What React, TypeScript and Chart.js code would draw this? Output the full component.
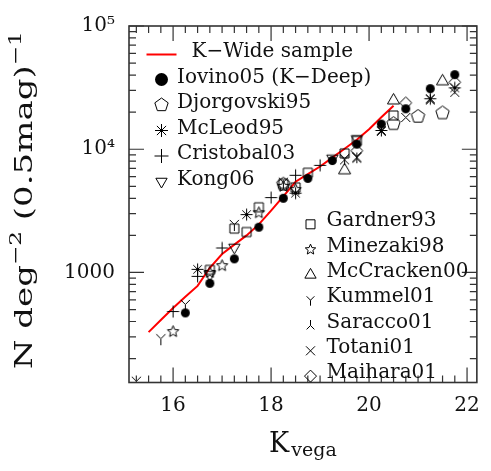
import React, { useEffect, useRef } from 'react';
import { Chart, registerables } from 'chart.js';

Chart.register(...registerables);

// ---------------- data ----------------
const kwideMag = [15.5, 15.75, 16.0, 16.25, 16.5, 16.75, 17.0, 17.25, 17.5, 17.75, 18.0, 18.25, 18.5, 18.75, 19.0, 19.25, 19.5, 19.75, 20.0, 20.25, 20.5];
const kwideN = [328, 412, 515, 634, 778, 1091, 1413, 1683, 2000, 2455, 3177, 4140, 5445, 6270, 7245, 8550, 10090, 11940, 14550, 18150, 22540];

const iovinoMag = [16.25, 16.75, 17.25, 17.75, 18.25, 18.75, 19.25, 19.75, 20.25, 20.75, 21.25, 21.75];
const iovinoN = [470, 816, 1290, 2330, 4000, 5800, 8100, 11000, 16000, 21300, 31000, 40300];

const djorgMag = [18.25, 20.5, 21.0, 21.5];
const djorgN = [5200, 16100, 18450, 19700];

const mcleodMag = [16.5, 17.5, 18.5, 20.25, 21.25, 21.75];
const mcleodN = [1060, 2950, 4400, 14200, 25700, 31500];

const cristobalMag = [16.0, 16.5, 17.0, 18.0, 18.5, 19.0];
const cristobalN = [482, 930, 1580, 4050, 6150, 7400];

const kongMag = [16.75, 17.25, 19.25, 19.75];
const kongN = [960, 1600, 8450, 12150];

const gardnerMag = [16.75, 17.25, 17.5, 17.75, 18.25, 18.5, 18.75, 19.5, 19.75, 20.5];
const gardnerN = [1050, 2270, 2130, 3380, 5240, 4900, 6450, 9250, 11700, 18800];

const minezakiMag = [16.0, 16.75, 17.0, 17.75, 18.25, 18.5];
const minezakiN = [331, 1000, 1135, 3050, 5000, 4700];

const mccrackenMag = [19.5, 20.5, 21.5];
const mccrackenN = [6750, 24900, 35600];

const kummelMag = [15.25, 15.75, 16.25, 17.25, 18.25, 19.5, 19.75];
const kummelN = [131, 290, 550, 2450, 5400, 8400, 8700];

const saraccoMag = [19.75, 20.25, 21.25];
const saraccoN = [8400, 14000, 25000];

const totaniMag = [19.5, 19.75, 20.25, 20.75, 21.25, 21.75];
const totaniN = [8200, 8600, 14000, 18100, 25500, 29000];

const maiharaMag = [19.75, 20.75, 21.75];
const maiharaN = [9720, 23800, 35000];

const xLabelValues = [16, 18, 20, 22];
const yLabelValues = [1000, 10000, 100000];
const yLabelTexts = ['1000', '10⁴', '10⁵'];

const legendTop = ['K−Wide sample', 'Iovino05 (K−Deep)', 'Djorgovski95', 'McLeod95', 'Cristobal03', 'Kong06'];
const legendBottom = ['Gardner93', 'Minezaki98', 'McCracken00', 'Kummel01', 'Saracco01', 'Totani01', 'Maihara01'];

const FONT = "'DejaVu Serif', serif";

type Kind = 'dot' | 'pentagon' | 'asterisk' | 'plus' | 'downtri' | 'square' | 'star5' | 'uptri' | 'ky' | 'sy' | 'x' | 'diamond';

function drawSym(ctx: CanvasRenderingContext2D, kind: Kind, x: number, y: number, r: number) {
  ctx.save();
  ctx.strokeStyle = '#000';
  ctx.fillStyle = '#000';
  ctx.lineWidth = 1;
  ctx.beginPath();
  const c30 = Math.cos(Math.PI / 6);
  const d45 = Math.SQRT1_2;
  switch (kind) {
    case 'dot':
      ctx.arc(x, y, r, 0, Math.PI * 2);
      ctx.fill();
      break;
    case 'pentagon':
      for (let i = 0; i < 5; i++) {
        const a = -Math.PI / 2 + (i * 2 * Math.PI) / 5;
        const px = x + r * Math.cos(a), py = y + r * Math.sin(a);
        if (i === 0) ctx.moveTo(px, py); else ctx.lineTo(px, py);
      }
      ctx.closePath();
      ctx.stroke();
      break;
    case 'asterisk':
      for (let i = 0; i < 4; i++) {
        const a = (i * Math.PI) / 4;
        ctx.moveTo(x - r * Math.cos(a), y - r * Math.sin(a));
        ctx.lineTo(x + r * Math.cos(a), y + r * Math.sin(a));
      }
      ctx.stroke();
      break;
    case 'plus':
      ctx.moveTo(x - r, y); ctx.lineTo(x + r, y);
      ctx.moveTo(x, y - r); ctx.lineTo(x, y + r);
      ctx.stroke();
      break;
    case 'downtri':
      ctx.moveTo(x, y + r);
      ctx.lineTo(x - r * c30, y - r / 2);
      ctx.lineTo(x + r * c30, y - r / 2);
      ctx.closePath();
      ctx.stroke();
      break;
    case 'uptri':
      ctx.moveTo(x, y - r);
      ctx.lineTo(x + r * c30, y + r / 2);
      ctx.lineTo(x - r * c30, y + r / 2);
      ctx.closePath();
      ctx.stroke();
      break;
    case 'square':
      ctx.rect(x - r, y - r, 2 * r, 2 * r);
      ctx.stroke();
      break;
    case 'star5':
      for (let i = 0; i < 10; i++) {
        const a = -Math.PI / 2 + (i * Math.PI) / 5;
        const rr = i % 2 === 0 ? r : r * 0.45;
        const px = x + rr * Math.cos(a), py = y + rr * Math.sin(a);
        if (i === 0) ctx.moveTo(px, py); else ctx.lineTo(px, py);
      }
      ctx.closePath();
      ctx.stroke();
      break;
    case 'ky':
      ctx.moveTo(x, y); ctx.lineTo(x, y + r);
      ctx.moveTo(x, y); ctx.lineTo(x - r * d45, y - r * d45);
      ctx.moveTo(x, y); ctx.lineTo(x + r * d45, y - r * d45);
      ctx.stroke();
      break;
    case 'sy':
      ctx.moveTo(x, y); ctx.lineTo(x, y - r);
      ctx.moveTo(x, y); ctx.lineTo(x - r * d45, y + r * d45);
      ctx.moveTo(x, y); ctx.lineTo(x + r * d45, y + r * d45);
      ctx.stroke();
      break;
    case 'x':
      ctx.moveTo(x - r, y - r); ctx.lineTo(x + r, y + r);
      ctx.moveTo(x + r, y - r); ctx.lineTo(x - r, y + r);
      ctx.stroke();
      break;
    case 'diamond':
      ctx.moveTo(x, y - r); ctx.lineTo(x + r, y); ctx.lineTo(x, y + r); ctx.lineTo(x - r, y);
      ctx.closePath();
      ctx.stroke();
      break;
  }
  ctx.restore();
}

function symCanvas(kind: Kind, r: number): HTMLCanvasElement {
  const size = 2 * Math.ceil(r) + 5;
  const c = document.createElement('canvas');
  c.width = size;
  c.height = size;
  const ctx = c.getContext('2d')!;
  drawSym(ctx, kind, size / 2, size / 2, r);
  return c;
}

function pts(xs: number[], ys: number[]) {
  return xs.map((x, i) => ({ x, y: ys[i] }));
}

export default function App() {
  const ref = useRef<HTMLCanvasElement | null>(null);

  useEffect(() => {
    if (!ref.current) return;

    const series: { label: string; kind: Kind; r: number; xs: number[]; ys: number[]; clip?: number }[] = [
      { label: 'Gardner93', kind: 'square', r: 4.5, xs: gardnerMag, ys: gardnerN },
      { label: 'Minezaki98', kind: 'star5', r: 6, xs: minezakiMag, ys: minezakiN },
      { label: 'McCracken00', kind: 'uptri', r: 7, xs: mccrackenMag, ys: mccrackenN },
      { label: 'Kummel01', kind: 'ky', r: 6.5, xs: kummelMag, ys: kummelN, clip: 0 },
      { label: 'Saracco01', kind: 'sy', r: 6, xs: saraccoMag, ys: saraccoN },
      { label: 'Totani01', kind: 'x', r: 4.5, xs: totaniMag, ys: totaniN },
      { label: 'Maihara01', kind: 'diamond', r: 6, xs: maiharaMag, ys: maiharaN },
      { label: 'Djorgovski95', kind: 'pentagon', r: 7, xs: djorgMag, ys: djorgN },
      { label: 'McLeod95', kind: 'asterisk', r: 6, xs: mcleodMag, ys: mcleodN },
      { label: 'Cristobal03', kind: 'plus', r: 6, xs: cristobalMag, ys: cristobalN },
      { label: 'Kong06', kind: 'downtri', r: 6.5, xs: kongMag, ys: kongN },
      { label: 'Iovino05 (K−Deep)', kind: 'dot', r: 4.5, xs: iovinoMag, ys: iovinoN },
    ];

    const datasets: any[] = series.map((s) => ({
      type: 'scatter',
      label: s.label,
      data: pts(s.xs, s.ys),
      pointStyle: symCanvas(s.kind, s.r),
      pointRadius: s.r,
      showLine: false,
      ...(s.clip !== undefined ? { clip: s.clip } : {}),
    }));
    datasets.push({
      type: 'line',
      label: 'K−Wide sample',
      data: pts(kwideMag, kwideN),
      borderColor: '#ff0000',
      borderWidth: 2,
      pointRadius: 0,
      tension: 0,
      fill: false,
    });

    const topKinds: (Kind | null)[] = [null, 'dot', 'pentagon', 'asterisk', 'plus', 'downtri'];
    const topR = [0, 6.5, 7, 6.5, 7, 6.5];
    const botKinds: Kind[] = ['square', 'star5', 'uptri', 'ky', 'sy', 'x', 'diamond'];
    const botR = [4.5, 5.5, 6.5, 5.5, 5.5, 4.5, 6];

    const decor = {
      id: 'decor',
      afterDatasetsDraw(chart: any) {
        const { ctx, chartArea: a, scales } = chart;
        const xs = scales.x, ys = scales.y;
        ctx.save();
        // frame
        ctx.strokeStyle = '#333';
        ctx.lineWidth = 1.6;
        ctx.strokeRect(a.left, a.top, a.right - a.left, a.bottom - a.top);
        // ticks
        ctx.lineWidth = 1.2;
        ctx.beginPath();
        xs.ticks.forEach((t: any) => {
          const px = xs.getPixelForValue(t.value);
          const len = xLabelValues.includes(t.value) ? 15 : 7;
          ctx.moveTo(px, a.bottom); ctx.lineTo(px, a.bottom - len);
          ctx.moveTo(px, a.top); ctx.lineTo(px, a.top + len);
        });
        ys.ticks.forEach((t: any) => {
          const py = ys.getPixelForValue(t.value);
          const len = yLabelValues.includes(t.value) ? 15 : 7;
          ctx.moveTo(a.left, py); ctx.lineTo(a.left + len, py);
          ctx.moveTo(a.right, py); ctx.lineTo(a.right - len, py);
        });
        ctx.stroke();

        // legends
        ctx.fillStyle = '#111';
        ctx.font = `20px ${FONT}`;
        ctx.textBaseline = 'alphabetic';
        ctx.textAlign = 'left';
        legendTop.forEach((txt, i) => {
          const base = a.top + 31 + i * 25.5;
          if (i === 0) {
            ctx.save();
            ctx.strokeStyle = '#ff0000';
            ctx.lineWidth = 2;
            ctx.beginPath();
            ctx.moveTo(a.left + 17.5, base - 2.5);
            ctx.lineTo(a.left + 47.5, base - 2.5);
            ctx.stroke();
            ctx.restore();
            ctx.fillText(txt, a.left + 62.5, base);
          } else {
            drawSym(ctx, topKinds[i] as Kind, a.left + 32.5, base - 3, topR[i]);
            ctx.fillText(txt, a.left + 48, base);
          }
        });
        legendBottom.forEach((txt, i) => {
          const base = a.top + 200.3 + i * 25.3;
          drawSym(ctx, botKinds[i], a.left + 181.5, base - 2, botR[i]);
          ctx.fillText(txt, a.left + 197.5, base);
        });

        // x title
        const cx = (a.left + a.right) / 2;
        ctx.font = `27px ${FONT}`;
        const wK = ctx.measureText('K').width;
        ctx.font = `19px ${FONT}`;
        const wV = ctx.measureText('vega').width;
        const x0 = cx - (wK + 2 + wV) / 2;
        ctx.font = `27px ${FONT}`;
        ctx.fillText('K', x0, 452);
        ctx.font = `19px ${FONT}`;
        ctx.fillText('vega', x0 + wK + 2, 456);

        // y title (rotated)
        const parts: [string, boolean][] = [['N deg', false], ['−2', true], [' (0.5mag)', false], ['−1', true]];
        const mainF = `25px ${FONT}`, supF = `17px ${FONT}`;
        let total = 0;
        const widths = parts.map(([s, sup]) => {
          ctx.font = sup ? supF : mainF;
          const w = ctx.measureText(s).width;
          total += w;
          return w;
        });
        const target = 338;
        const sx = target / total;
        ctx.save();
        ctx.translate(32, (a.top + a.bottom) / 2 - 4);
        ctx.rotate(-Math.PI / 2);
        ctx.scale(sx, 1);
        let pos = -total / 2;
        parts.forEach(([s, sup], i) => {
          ctx.font = sup ? supF : mainF;
          ctx.fillText(s, pos, sup ? -11 : 0);
          pos += widths[i];
        });
        ctx.restore();

        ctx.restore();
      },
    };

    const chart = new Chart(ref.current, {
      type: 'scatter',
      data: { datasets },
      options: {
        animation: false,
        responsive: false,
        events: [],
        layout: { padding: { left: 0, top: 13, right: 8, bottom: 0 } },
        plugins: { legend: { display: false }, tooltip: { enabled: false } },
        scales: {
          x: {
            type: 'linear',
            min: 15.1,
            max: 22.2,
            grid: { display: false, drawTicks: false },
            border: { display: false },
            afterBuildTicks: (scale: any) => {
              const t: { value: number }[] = [];
              for (let v = 15.25; v <= 22.2; v += 0.25) t.push({ value: v });
              scale.ticks = t;
            },
            afterFit: (scale: any) => { scale.height = 88.5; },
            ticks: {
              autoSkip: false,
              maxRotation: 0,
              padding: 11,
              color: '#111',
              font: { family: FONT, size: 20 },
              callback: (v: any) => (xLabelValues.includes(Number(v)) ? String(v) : ''),
            },
          },
          y: {
            type: 'logarithmic',
            min: 128,
            max: 100000,
            grid: { display: false, drawTicks: false },
            border: { display: false },
            afterBuildTicks: (scale: any) => {
              const t: { value: number }[] = [];
              for (let d = 100; d <= 10000; d *= 10) {
                for (let m = 1; m <= 9; m++) {
                  const v = m * d;
                  if (v >= 128) t.push({ value: v });
                }
              }
              t.push({ value: 100000 });
              scale.ticks = t;
            },
            afterFit: (scale: any) => { scale.width = 129; },
            ticks: {
              autoSkip: false,
              padding: 14,
              color: '#111',
              font: { family: FONT, size: 20 },
              callback: (v: any) => {
                const i = yLabelValues.indexOf(Number(v));
                return i >= 0 ? yLabelTexts[i] : '';
              },
            },
          },
        },
      },
      plugins: [decor],
    } as any);

    return () => chart.destroy();
  }, []);

  return (
    <div style={{ position: 'absolute', left: 0, top: 0, width: 491, height: 471, background: '#fff' }}>
      <canvas ref={ref} width={491} height={471} />
    </div>
  );
}
